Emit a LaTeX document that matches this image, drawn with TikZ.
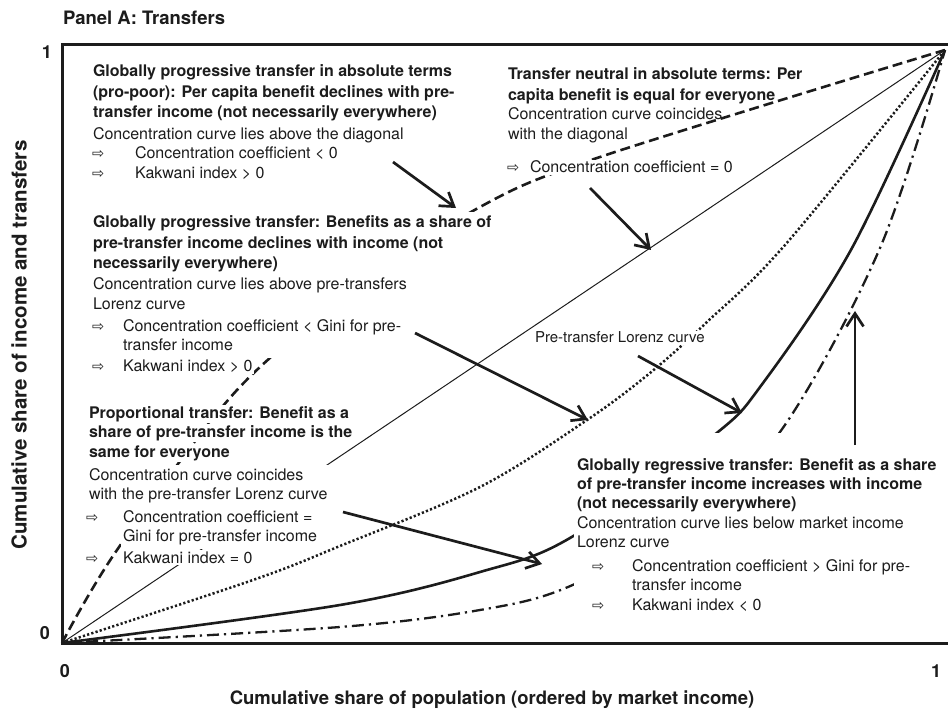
\documentclass[tikz,border=0pt]{standalone}
\usepackage{fontspec}
\setmainfont{TeX Gyre Heros}
\newfontfamily\arrowfont{DejaVu Sans}
\usetikzlibrary{arrows.meta}
\definecolor{ink}{HTML}{1C1C1C}
\newcommand{\txtlines}[1]{\begin{tabular}[t]{@{}l@{}}#1\end{tabular}}
\begin{document}
\begin{tikzpicture}[x=1pt,y=-1pt,
  every node/.style={inner sep=0pt,outer sep=0pt,text=ink},
  hd/.style={anchor=base west,font=\fontsize{16}{20.4}\selectfont\bfseries},
  tx/.style={anchor=base west,font=\fontsize{16}{19.8}\selectfont},
  mask/.style={fill=white,inner xsep=2pt,inner ysep=1.5pt},
  hint/.style={anchor=base west,font=\fontsize{14.5}{16}\selectfont\arrowfont},
  pointer/.style={draw=ink,line width=2.7pt,-{Straight Barb[length=13pt,width=17pt]}},
  frame/.style={draw=ink,line width=3pt},
  dashedcurve/.style={draw=ink,line width=2.6pt,dash pattern=on 10pt off 5pt},
  diag/.style={draw=ink,line width=1pt},
  dotcurve/.style={draw=ink,line width=2.5pt,dash pattern=on 2.2pt off 2.2pt},
  solidcurve/.style={draw=ink,line width=2.6pt},
  dashdotcurve/.style={draw=ink,line width=2.3pt,dash pattern=on 12pt off 5pt on 2.2pt off 5pt},
  axnum/.style={font=\fontsize{18}{20}\selectfont\bfseries},
  axtitle/.style={font=\fontsize{18.5}{21}\selectfont\bfseries},
]
\useasboundingbox (0,0) rectangle (948,711);

% frame of the plot area
\draw[frame] (948,45) -- (62,45) -- (62,643) -- (948,643);

% concentration curves
\draw[dashedcurve] plot[smooth,tension=0.55] coordinates
  {(62,643) (117,550) (237,390) (360,287) (480,207) (600,157) (945,50)};
\draw[diag] (62,643) -- (945,50);
\draw[dotcurve] plot[smooth,tension=0.55] coordinates
  {(62,643) (253,580) (340,546) (480,487) (587,420) (650,373) (707,322) (785,245) (945,50)};
\draw[solidcurve] plot[smooth,tension=0.55] coordinates
  {(62,643) (340,605) (480,572) (570,538) (713,436) (763,383) (852,248) (945,50)};
\draw[dashdotcurve] plot[smooth,tension=0.55] coordinates
  {(62,643) (340,627) (480,610) (568,587) (680,525) (780,432) (880,248) (945,50)};

% top-left block
\node[hd] (a1) at (93,77) {\txtlines{Globally progressive transfer in absolute terms\\(pro-poor): Per capita benefit declines with pre-\\transfer income (not necessarily everywhere)}};
\node[tx] (a2) at (93,140) {Concentration curve lies above the diagonal};
\node[hint] (a3s) at (92,159) {⇨};
\node[tx] (a3) at (135,159) {Concentration coefficient < 0};
\node[hint] (a4s) at (92,179) {⇨};
\node[tx] (a4) at (135,179) {Kakwani index > 0};

% top-right block
\node[hd] (b1) at (508,80) {\txtlines{Transfer neutral in absolute terms: Per\\capita benefit is equal for everyone}};
\node[tx] (b2) at (508,120) {\txtlines{Concentration curve coincides\\with the diagonal}};
\node[hint] (b3s) at (507,173) {⇨};
\node[tx,mask] (b3) at (528,173) {Concentration coefficient = 0};

% middle-left block
\node[hd,mask] (c1) at (91,228) {\txtlines{Globally progressive transfer: Benefits as a share of\\pre-transfer income declines with income (not\\necessarily everywhere)}};
\node[tx,mask] (c2) at (91,290) {\txtlines{Concentration curve lies above pre-transfers\\Lorenz curve}};
\node[hint] (c3s) at (92,331) {⇨};
\node[tx,mask] (c3) at (121,331) {\txtlines{Concentration coefficient < Gini for pre-\\transfer income}};
\node[hint] (c4s) at (92,371) {⇨};
\node[tx,mask] (c4) at (121,371) {Kakwani index > 0};

% lower-left block
\node[hd,mask] (d1) at (87,418) {Proportional transfer: Benefit as a};
\node[hd,mask] (d2) at (87,437.5) {share of pre-transfer income is the};
\node[hd,mask] (d3) at (87,457) {same for everyone};
\node[tx,mask,font=\fontsize{16}{19.4}\selectfont] (d4) at (87,480) {\txtlines{Concentration curve coincides\\with the pre-transfer Lorenz curve}};
\node[hint] (d5s) at (86,522) {⇨};
\node[tx,mask,font=\fontsize{16}{19.4}\selectfont] (d5) at (121,522) {\txtlines{Concentration coefficient =\\Gini for pre-transfer income}};
\node[hint] (d6s) at (86,563) {⇨};
\node[tx,mask] (d6) at (121,563) {Kakwani index = 0};

% lower-right block
\fill[white] (574,433) rectangle (948,616);
\node[hd,font=\fontsize{16}{19.4}\selectfont\bfseries] (e1) at (577,470) {\txtlines{Globally regressive transfer: Benefit as a share\\of pre-transfer income increases with income\\(not necessarily everywhere)}};
\node[tx,font=\fontsize{16}{19.4}\selectfont] (e2) at (577,528) {\txtlines{Concentration curve lies below market income\\Lorenz curve}};
\node[hint] (e3s) at (592,571) {⇨};
\node[tx,font=\fontsize{16}{19.4}\selectfont] (e3) at (632,571) {\txtlines{Concentration coefficient > Gini for pre-\\transfer income}};
\node[hint] (e4s) at (592,610) {⇨};
\node[tx] (e4) at (632,610) {Kakwani index < 0};

% curve label
\node[tx,mask,font=\fontsize{15}{18}\selectfont] (lz) at (533,343) {Pre-transfer Lorenz curve};

% pointers
\coordinate (pA) at (393,162); \coordinate (qA) at (456,208);
\coordinate (pB) at (590,188); \coordinate (qB) at (651,250);
\coordinate (pC) at (415,333); \coordinate (qC) at (588,420);
\coordinate (pL) at (638,356); \coordinate (qL) at (742,413);
\coordinate (pD) at (343,512); \coordinate (qD) at (542,564);
\coordinate (pE) at (855,445); \coordinate (qE) at (855,311);
\draw[pointer] (pA) -- (qA);
\draw[pointer] (pB) -- (qB);
\draw[pointer] (pC) -- (qC);
\draw[pointer] (pL) -- (qL);
\draw[pointer] (pD) -- (qD);
\draw[pointer] (pE) -- (qE);

% axis values and titles
\node[axnum] (y1) at (47,52) {1};
\node[axnum] (y0) at (45,633) {0};
\node[axnum] (x0) at (65,671) {0};
\node[axnum] (x1) at (936,671) {1};
\node[anchor=base west,font=\fontsize{18.5}{20}\selectfont\bfseries] (ttl) at (63,25) {Panel A: Transfers};
\node[axtitle] (xt) at (492,700) {Cumulative share of population (ordered by market income)};
\node[font=\fontsize{20.5}{23}\selectfont\bfseries,rotate=90] (yt) at (19,345) {Cumulative share of income and transfers};
\end{tikzpicture}
\end{document}
